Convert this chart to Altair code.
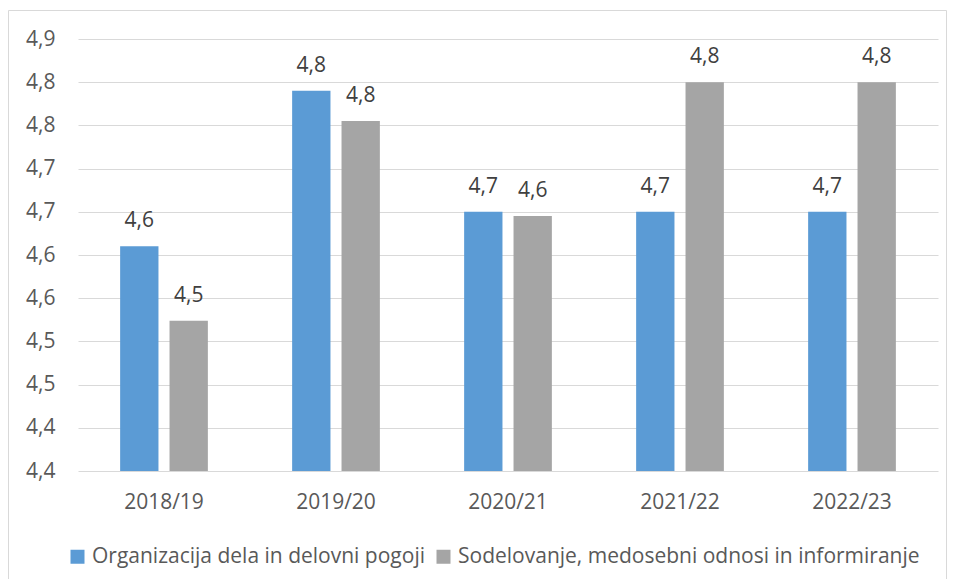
import altair as alt
import pandas as pd

categories = ["2018/19", "2019/20", "2020/21", "2021/22", "2022/23"]
series_names = [
    "Organizacija dela in delovni pogoji",
    "Sodelovanje, medosebni odnosi in informiranje",
]
series_a = [4.61, 4.79, 4.65, 4.65, 4.65]
series_b = [4.524, 4.755, 4.645, 4.80, 4.80]
ytick_values = [4.35, 4.40, 4.45, 4.50, 4.55, 4.60, 4.65, 4.70, 4.75, 4.80, 4.85]
y_min = 4.35
colors = ["#5B9BD5", "#A5A5A5"]

rows = []
for i, c in enumerate(categories):
    rows.append({"cat": c, "series": series_names[0], "value": series_a[i]})
    rows.append({"cat": c, "series": series_names[1], "value": series_b[i]})
df = pd.DataFrame(rows)

FONT = "Open Sans"
TXT = "#595959"
FS = 21

x = alt.X("cat:N", sort=categories, title=None,
          scale=alt.Scale(paddingInner=0.49, paddingOuter=0.245),
          axis=alt.Axis(labelAngle=0, ticks=False, domain=False, labelPadding=20,
                        labelFontSize=FS, labelColor=TXT, labelFont=FONT, grid=False))
y = alt.Y("value:Q", title=None,
          scale=alt.Scale(domain=[4.35, 4.85], nice=False, zero=False),
          axis=alt.Axis(values=ytick_values, ticks=False, domain=False, labelPadding=23,
                        labelFontSize=FS, labelColor=TXT, labelFont=FONT,
                        gridColor="#D9D9D9", gridWidth=1,
                        labelExpr="replace(format(datum.value + 0.000001, '.1f'), '.', ',')"))
xoff = alt.XOffset("series:N", sort=series_names,
                   scale=alt.Scale(paddingInner=0.224, paddingOuter=0))
color = alt.Color("series:N", sort=series_names,
                  scale=alt.Scale(domain=series_names, range=colors),
                  legend=alt.Legend(orient="none", direction="horizontal", title=None,
                                    legendX=-11, legendY=507, symbolType="square",
                                    symbolSize=196, symbolStrokeWidth=0,
                                    labelFontSize=FS, labelColor=TXT, labelFont=FONT,
                                    labelLimit=0, labelOffset=4, columnPadding=8))

base = alt.Chart(df)
bars = base.mark_bar().encode(x=x, y=y, y2=alt.datum(y_min), xOffset=xoff, color=color)
labels = base.transform_calculate(
    lab="replace(format(datum.value + 0.000001, '.1f'), '.', ',')"
).mark_text(baseline="alphabetic", dy=-19, fontSize=FS, color="#404040", font=FONT).encode(
    x=x, y=y, xOffset=xoff, text="lab:N")

frame = alt.Chart(pd.DataFrame({"k": [0]})).mark_rect(
    fill=None, stroke="#D9D9D9", strokeWidth=1
).encode(x=alt.value(-69.5), x2=alt.value(868.5), y=alt.value(-28.5), y2=alt.value(560))

chart = alt.layer(frame, bars, labels).properties(
    width=860, height=432,
    autosize=alt.AutoSizeParams(type="none"),
    padding={"left": 70, "top": 31, "right": 9, "bottom": 108},
).configure(font=FONT, view=alt.ViewConfig(stroke=None))

chart.save("out.html", embed_options={"renderer": "svg", "actions": False})
